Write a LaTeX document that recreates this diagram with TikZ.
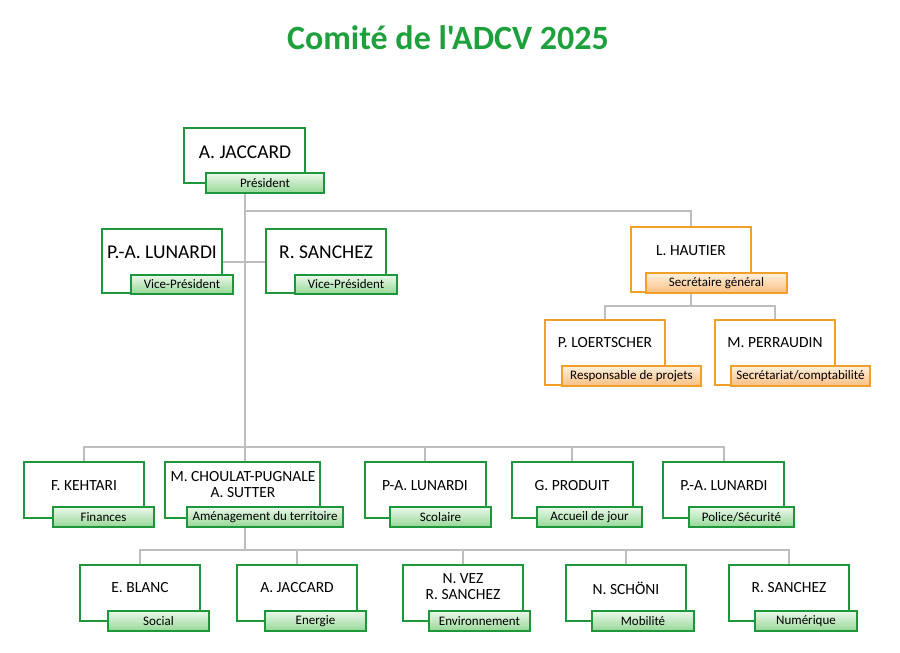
\documentclass[tikz,border=0pt]{standalone}
\usepackage{fontspec}
\setmainfont{Carlito}
\newfontfamily\titlefont{Carlito}[Ligatures=TeXOff]
\definecolor{gbord}{RGB}{30,150,60}
\definecolor{obord}{RGB}{240,160,40}
\definecolor{glight}{RGB}{235,248,235}
\definecolor{gdark}{RGB}{150,215,150}
\definecolor{olight}{RGB}{255,240,220}
\definecolor{odark}{RGB}{250,190,130}
\definecolor{title}{RGB}{30,160,60}
\definecolor{conn}{RGB}{190,190,190}
\tikzset{
 mainbox/.style={draw=gbord,line width=1.4pt,fill=white,inner sep=0pt},
 omainbox/.style={mainbox,draw=obord},
 lab/.style={draw=gbord,line width=1.4pt,top color=glight,bottom color=gdark,inner sep=0pt,font=\fontsize{13}{14}\selectfont},
 olab/.style={lab,draw=obord,top color=olight,bottom color=odark},
 nm/.style={font=\fontsize{15.5}{16}\selectfont,align=center,inner sep=0pt},
 bignm/.style={font=\fontsize{19.5}{21}\selectfont,inner sep=0pt},
 link/.style={draw=conn,line width=1.8pt}
}
\newcommand{\mybox}[6]{\node[#6,minimum width=#4pt-#2pt,minimum height=#5pt-#3pt] (#1) at ({(#2+#4)/2},{(#3+#5)/2}) {};}
\newcommand{\mylab}[7]{\node[#6,minimum width=#4pt-#2pt,minimum height=#5pt-#3pt] (#1) at ({(#2+#4)/2},{(#3+#5)/2}) {#7};}
\begin{document}
\begin{tikzpicture}[x=1pt,y=-1pt]
\useasboundingbox (0,0) rectangle (900,653);
\node[font=\titlefont\bfseries\fontsize{34}{38}\selectfont,text=title] (t) at (448,38) {Comité de l'ADCV 2025};
\coordinate (j1) at (245,211);
\coordinate (j2) at (245,447);
\coordinate (j3) at (691,306);
\coordinate (j4) at (245,550);
\draw[link] (245,193) -- (j2);
\draw[link] (j1) -| (691,227);
\draw[link] (222,262) -- (266,262);
\draw[link] (691,293) -- (j3);
\draw[link] (605,320) |- (775,306) -- (775,320);
\draw[link] (84,462) |- (724,447) -- (724,462);
\foreach \x in {245,425,572} \draw[link] (\x,447) -- (\x,462);
\draw[link] (245,527) -- (j4);
\draw[link] (140,565) |- (789,550) -- (789,565);
\foreach \x in {297,463,626} \draw[link] (\x,550) -- (\x,565);
\mybox{pres}{184}{128}{305}{183}{mainbox}
\mylab{presl}{206}{173}{324}{193}{lab}{Président}
\node[bignm] (presn) at (245,152) {A. JACCARD};
\mybox{vp1}{102}{229}{222}{293}{mainbox}
\mylab{vp1l}{131}{275}{233}{294}{lab}{Vice-Président}
\node[bignm] (vp1n) at (162,252) {P.-A. LUNARDI};
\mybox{vp2}{266}{229}{386}{293}{mainbox}
\mylab{vp2l}{295}{275}{397}{294}{lab}{Vice-Président}
\node[bignm] (vp2n) at (326,252) {R. SANCHEZ};
\mybox{sg}{631}{227}{751}{292}{omainbox}
\mylab{sgl}{646}{273}{787}{293}{olab}{Secrétaire général}
\node[nm] (sgn) at (691,251) {L. HAUTIER};
\mybox{lo}{545}{320}{665}{385}{omainbox}
\mylab{lol}{562}{366}{701}{386}{olab}{Responsable de projets}
\node[nm] (lon) at (605,343) {P. LOERTSCHER};
\mybox{pe}{715}{320}{835}{385}{omainbox}
\mylab{pel}{731}{366}{870}{386}{olab}{Secrétariat/comptabilité}
\node[nm] (pen) at (775,343) {M. PERRAUDIN};
\mybox{r1}{24}{462}{144}{518}{mainbox}
\mylab{r1l}{53}{507}{154}{527}{lab}{Finances}
\node[nm] (r1n) at (84,486) {F. KEHTARI};
\mybox{r2}{165}{462}{320}{518}{mainbox}
\mylab{r2l}{187}{507}{343}{527}{lab}{Aménagement du territoire}
\node[nm] (r2n) at (243,485) {M. CHOULAT-PUGNALE\\A. SUTTER};
\mybox{r3}{365}{462}{486}{518}{mainbox}
\mylab{r3l}{390}{507}{491}{527}{lab}{Scolaire}
\node[nm] (r3n) at (425,486) {P-A. LUNARDI};
\mybox{r4}{512}{462}{633}{518}{mainbox}
\mylab{r4l}{537}{507}{642}{527}{lab}{Accueil de jour}
\node[nm] (r4n) at (572,486) {G. PRODUIT};
\mybox{r5}{663}{462}{784}{518}{mainbox}
\mylab{r5l}{689}{507}{794}{527}{lab}{Police/Sécurité}
\node[nm] (r5n) at (724,486) {P.-A. LUNARDI};
\mybox{s1}{80}{565}{200}{621}{mainbox}
\mylab{s1l}{108}{611}{209}{631}{lab}{Social}
\node[nm] (s1n) at (140,588) {E. BLANC};
\mybox{s2}{237}{565}{357}{621}{mainbox}
\mylab{s2l}{265}{611}{366}{631}{lab}{Energie}
\node[nm] (s2n) at (297,588) {A. JACCARD};
\mybox{s3}{403}{565}{523}{621}{mainbox}
\mylab{s3l}{429}{611}{530}{631}{lab}{Environnement}
\node[nm] (s3n) at (463,587) {N. VEZ\\R. SANCHEZ};
\mybox{s4}{566}{565}{686}{621}{mainbox}
\mylab{s4l}{592}{611}{694}{631}{lab}{Mobilité}
\node[nm] (s4n) at (626,588) {N. SCHÖNI};
\mybox{s5}{729}{565}{849}{621}{mainbox}
\mylab{s5l}{755}{611}{857}{631}{lab}{Numérique}
\node[nm] (s5n) at (789,588) {R. SANCHEZ};
\end{tikzpicture}
\end{document}
